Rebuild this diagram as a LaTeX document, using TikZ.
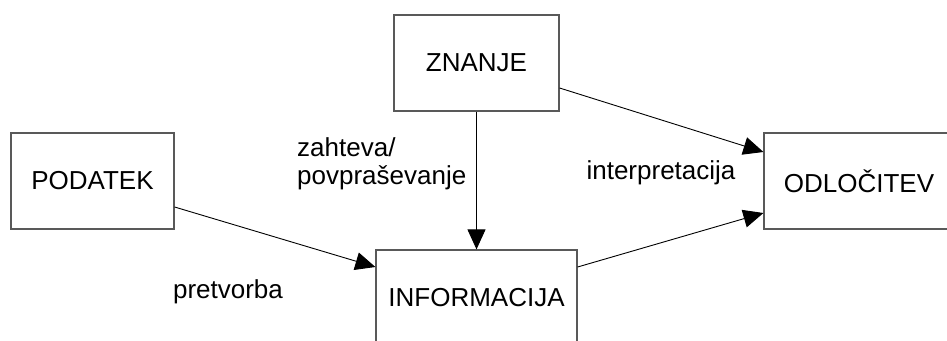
\documentclass[tikz,border=0pt]{standalone}
\usepackage{fontspec}
\setmainfont{Liberation Sans}
\usetikzlibrary{arrows.meta,calc}
\begin{document}
\begin{tikzpicture}[x=1pt,y=-1pt,
  box/.style={draw=black!65, line width=1.2pt, fill=white, minimum height=96pt, inner sep=0pt, font=\fontsize{26}{28}\selectfont},
  lbl/.style={font=\fontsize{26}{28}\selectfont, inner sep=0pt},
  conn/.style={line width=0.9pt, -{Triangle[length=20pt,width=18pt]}}]
\useasboundingbox (0,0) rectangle (947,340);
\clip (0,0) rectangle (947,340);
\node[box, minimum width=163pt] (podatek) at (92.5,181) {PODATEK};
\node[box, minimum width=165pt] (znanje) at (476.5,63) {ZNANJE};
\node[box, minimum width=201pt] (info) at (476.5,298) {INFORMACIJA};
\node[box, minimum width=190pt] (odl) at (859,181) {ODLOČITEV};
\draw[conn] ([yshift=-26pt]podatek.east) -- ([yshift=31pt]info.west);
\draw[conn] (znanje.south) -- (info.north);
\draw[conn] ([yshift=-25pt]znanje.east) -- ([yshift=29pt]odl.west);
\draw[conn] ([yshift=31pt]info.east) -- ([yshift=-32pt]odl.west);
\node[lbl, align=left, anchor=west] (zahteva) at (297,164) {zahteva/\\povpraševanje};
\node[lbl] (pretvorba) at (228,292) {pretvorba};
\node[lbl] (interp) at (661,173) {interpretacija};
\end{tikzpicture}
\end{document}
